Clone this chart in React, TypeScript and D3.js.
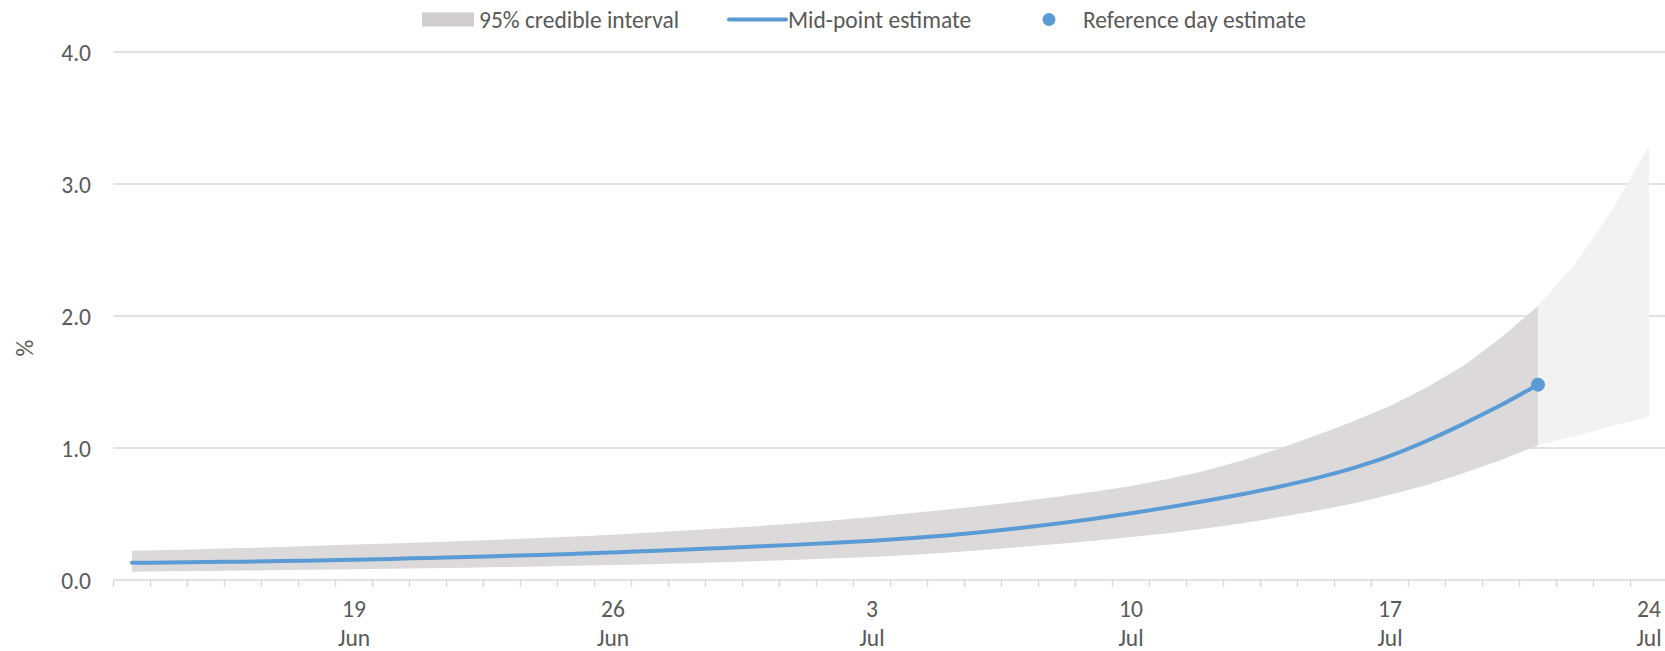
import React from "react";
import * as d3 from "d3";

// ---- data ----
const startDate = new Date(2020, 5, 13); // 13 Jun
const dayCount = 42; // 13 Jun .. 24 Jul
const dates: Date[] = Array.from({ length: dayCount }, (_, i) => d3.timeDay.offset(startDate, i));

// 95% credible interval (estimated period, 13 Jun .. 21 Jul)
const lowerBand = [
  0.063, 0.066, 0.069, 0.072, 0.075, 0.078, 0.081, 0.085, 0.089, 0.093,
  0.098, 0.103, 0.108, 0.113, 0.12, 0.127, 0.135, 0.144, 0.153, 0.164,
  0.175, 0.19, 0.207, 0.228, 0.25, 0.273, 0.298, 0.325, 0.355, 0.39,
  0.43, 0.475, 0.525, 0.58, 0.645, 0.72, 0.81, 0.91, 1.02,
];
const upperBand = [
  0.222, 0.228, 0.235, 0.242, 0.25, 0.259, 0.268, 0.277, 0.286, 0.296,
  0.306, 0.318, 0.33, 0.343, 0.36, 0.375, 0.392, 0.41, 0.43, 0.452,
  0.478, 0.505, 0.533, 0.563, 0.595, 0.63, 0.668, 0.712, 0.765, 0.828,
  0.905, 0.995, 1.095, 1.2, 1.318, 1.46, 1.625, 1.835, 2.076,
];
// projection interval (21 Jul .. 24 Jul)
const projLower = [1.02, 1.09, 1.165, 1.237];
const projUpper = [2.076, 2.394, 2.8, 3.288];
// mid-point estimate
const midPoint = [
  0.13, 0.133, 0.136, 0.139, 0.143, 0.148, 0.154, 0.16, 0.167, 0.174,
  0.182, 0.19, 0.199, 0.209, 0.22, 0.231, 0.243, 0.255, 0.268, 0.282,
  0.298, 0.316, 0.338, 0.364, 0.394, 0.427, 0.464, 0.505, 0.55, 0.598,
  0.65, 0.707, 0.772, 0.848, 0.94, 1.055, 1.185, 1.325, 1.48,
];
const referenceIndex = 38; // 21 Jul
const yTicks = [0, 1, 2, 3, 4];
const labelDayIdx = [6, 13, 20, 27, 34, 41];

const legendItems = ["95% credible interval", "Mid-point estimate", "Reference day estimate"];

const FONT = "Carlito, Calibri, Lato, 'Noto Sans', sans-serif";
const FS = 23.5;
const TEXT = "#595959";
const GRID = "#d9d9d9";
const BAND = "#dbd9da";
const PROJ = "#f2f2f2";
const BLUE = "#5b9bd5";

export default function App() {
  const W = 1665, H = 651;
  const left = 113.5, right = 1667.5;
  const x = d3.scaleBand<number>().domain(d3.range(dayCount)).range([left, right]).padding(0);
  const bw = x.bandwidth();
  const cx = (i: number) => (x(i) as number) + bw / 2;
  const y = d3.scaleLinear().domain([0, 4]).range([580, 52]);

  const bandArea = d3.area<number>()
    .x((_, i) => cx(i))
    .y0((d) => y(d))
    .y1((_, i) => y(upperBand[i]));
  const projArea = d3.area<number>()
    .x((_, i) => cx(referenceIndex + i))
    .y0((d) => y(d))
    .y1((_, i) => y(projUpper[i]));
  const midLine = d3.line<number>().x((_, i) => cx(i)).y((d) => y(d)).curve(d3.curveMonotoneX);

  const fmt = d3.format(".1f");
  const dayFmt = d3.timeFormat("%-d");
  const monFmt = d3.timeFormat("%b");

  return (
    <svg width={W} height={H} style={{ position: "absolute", left: 0, top: 0, background: "#fff" }} fontFamily={FONT}>
      {/* gridlines */}
      {yTicks.filter((t) => t > 0).map((t) => (
        <line key={t} x1={left} x2={W} y1={y(t)} y2={y(t)} stroke={GRID} strokeWidth={1.5} />
      ))}
      {/* y labels */}
      {yTicks.map((t) => (
        <text key={t} x={91} y={y(t) + 8.5} textAnchor="end" fontSize={FS} fill={TEXT}>{fmt(t)}</text>
      ))}
      <text transform={`translate(33,348) rotate(-90)`} textAnchor="middle" fontSize={FS} fill={TEXT}>%</text>

      {/* areas */}
      <path d={projArea(projLower) || ""} fill={PROJ} />
      <path d={bandArea(lowerBand) || ""} fill={BAND} />

      {/* x axis */}
      <line x1={left} x2={W} y1={y(0)} y2={y(0)} stroke={GRID} strokeWidth={1.5} />
      {d3.range(dayCount + 1).map((i) => {
        const tx = left + i * bw;
        return <line key={i} x1={tx} x2={tx} y1={y(0)} y2={y(0) + 7} stroke={GRID} strokeWidth={1.5} />;
      })}
      {labelDayIdx.map((i) => (
        <g key={i}>
          <text x={cx(i)} y={617} textAnchor="middle" fontSize={FS} fill={TEXT}>{dayFmt(dates[i])}</text>
          <text x={cx(i)} y={645.5} textAnchor="middle" fontSize={FS} fill={TEXT}>{monFmt(dates[i])}</text>
        </g>
      ))}

      {/* mid line */}
      <path d={midLine(midPoint) || ""} fill="none" stroke={BLUE} strokeWidth={4} strokeLinecap="round" strokeLinejoin="round" />
      <circle cx={cx(referenceIndex)} cy={y(midPoint[referenceIndex])} r={7} fill={BLUE} />

      {/* legend */}
      <rect x={422} y={12.5} width={52} height={14} fill="#d0cece" />
      <text x={479} y={27.5} fontSize={FS} fill={TEXT}>{legendItems[0]}</text>
      <line x1={729} x2={786} y1={19.5} y2={19.5} stroke={BLUE} strokeWidth={4} strokeLinecap="round" />
      <text x={788} y={27.5} fontSize={FS} fill={TEXT}>{legendItems[1]}</text>
      <circle cx={1049} cy={19.5} r={6.5} fill={BLUE} />
      <text x={1083} y={27.5} fontSize={FS} fill={TEXT}>{legendItems[2]}</text>
    </svg>
  );
}
